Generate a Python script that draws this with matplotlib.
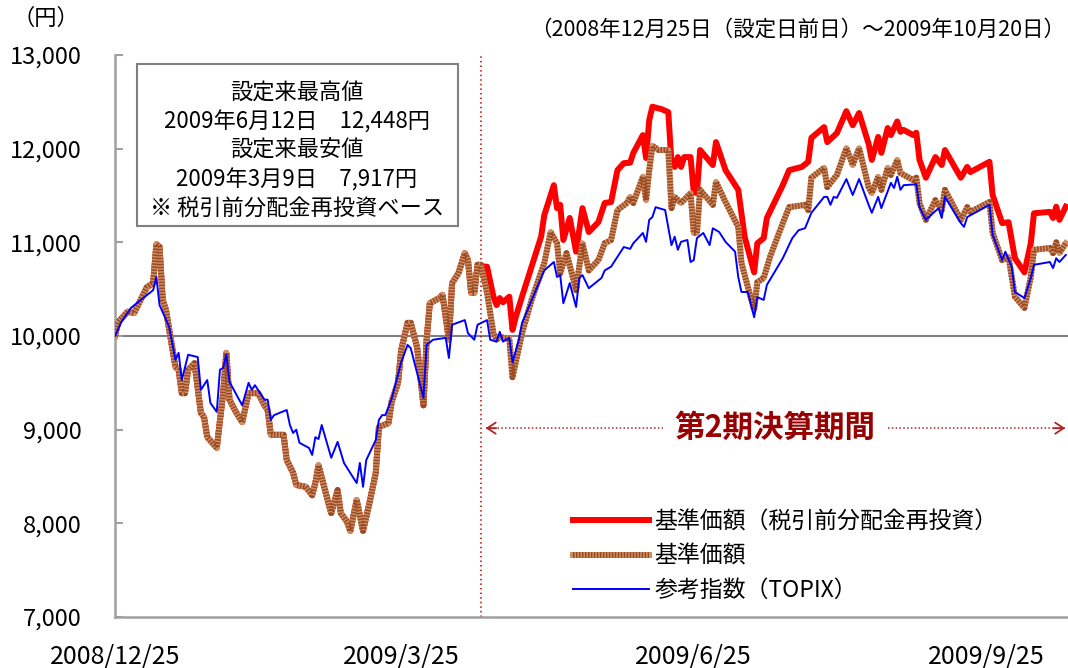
import matplotlib
matplotlib.use('Agg')
import matplotlib.pyplot as plt
from matplotlib.legend_handler import HandlerTuple
from matplotlib.patches import Rectangle
import pandas as pd

plt.rcParams['font.family'] = ['Noto Sans CJK JP', 'DejaVu Sans']

# 基準価額 - identical for both series until the dividend (2009/4/19)
common_dates = ['2008-12-25', '2008-12-26', '2008-12-29', '2008-12-31', '2009-01-04', '2009-01-06',
                '2009-01-07', '2009-01-08', '2009-01-09', '2009-01-10', '2009-01-13', '2009-01-14',
                '2009-01-15', '2009-01-16', '2009-01-17', '2009-01-19', '2009-01-21', '2009-01-22',
                '2009-01-23', '2009-01-26', '2009-01-28', '2009-01-29', '2009-01-30', '2009-02-01',
                '2009-02-03', '2009-02-05', '2009-02-08', '2009-02-10', '2009-02-11', '2009-02-12',
                '2009-02-16', '2009-02-17', '2009-02-19', '2009-02-20', '2009-02-23', '2009-02-25',
                '2009-02-26', '2009-02-27', '2009-03-02', '2009-03-03', '2009-03-05', '2009-03-06',
                '2009-03-08', '2009-03-09', '2009-03-11', '2009-03-13', '2009-03-15', '2009-03-17',
                '2009-03-18', '2009-03-21', '2009-03-22', '2009-03-24', '2009-03-25', '2009-03-27',
                '2009-03-28', '2009-03-30', '2009-04-01', '2009-04-02', '2009-04-03', '2009-04-06',
                '2009-04-07', '2009-04-09', '2009-04-10', '2009-04-12', '2009-04-14', '2009-04-15',
                '2009-04-16', '2009-04-17', '2009-04-18', '2009-04-19']
common_vals = [10000, 10150, 10260, 10245, 10520, 10565,
               10980, 10950, 10385, 10280, 9670, 9640,
               9390, 9390, 9640, 9710, 9180, 9135,
               8920, 8805, 9390, 9820, 9320, 9190,
               9080, 9390, 9390, 9260, 9210, 8945,
               8945, 8675, 8540, 8410, 8390, 8300,
               8430, 8620, 8230, 8110, 8355, 8110,
               8015, 7917, 8250, 7920, 8215, 8540,
               9030, 9070, 9300, 9500, 9850, 10140,
               10140, 9880, 9260, 9960, 10350, 10405,
               10440, 9960, 10565, 10670, 10885, 10810,
               10460, 10460, 10760, 10760]

# 基準価額 after the dividend
nav_dates = ['2009-04-21', '2009-04-23', '2009-04-24', '2009-04-25', '2009-04-28', '2009-04-29',
             '2009-05-02', '2009-05-05', '2009-05-09', '2009-05-11', '2009-05-13', '2009-05-14',
             '2009-05-16', '2009-05-19', '2009-05-21', '2009-05-23', '2009-05-26', '2009-05-28',
             '2009-05-30', '2009-06-01', '2009-06-04', '2009-06-05', '2009-06-06', '2009-06-09',
             '2009-06-10', '2009-06-11', '2009-06-12', '2009-06-14', '2009-06-17', '2009-06-18',
             '2009-06-19', '2009-06-21', '2009-06-24', '2009-06-25', '2009-06-26', '2009-06-27',
             '2009-07-01', '2009-07-02', '2009-07-05', '2009-07-09', '2009-07-10', '2009-07-12',
             '2009-07-14', '2009-07-15', '2009-07-17', '2009-07-19', '2009-07-23', '2009-07-25',
             '2009-07-30', '2009-07-31', '2009-08-01', '2009-08-05', '2009-08-06', '2009-08-09',
             '2009-08-12', '2009-08-14', '2009-08-16', '2009-08-19', '2009-08-20', '2009-08-22',
             '2009-08-23', '2009-08-25', '2009-08-26', '2009-08-28', '2009-08-29', '2009-09-02',
             '2009-09-03', '2009-09-04', '2009-09-06', '2009-09-09', '2009-09-11', '2009-09-12',
             '2009-09-17', '2009-09-19', '2009-09-20', '2009-09-26', '2009-09-27', '2009-09-30',
             '2009-10-02', '2009-10-04', '2009-10-07', '2009-10-09', '2009-10-10', '2009-10-15',
             '2009-10-16', '2009-10-17', '2009-10-18', '2009-10-20']
nav_vals = [10460, 10030, 9960, 9990, 9970, 9560,
            10030, 10385, 10780, 11110, 10990, 10670,
            10885, 10490, 10990, 10700, 10810, 10990,
            11025, 11345, 11420, 11485, 11420, 11700,
            11450, 11770, 12030, 11985, 11985, 11365,
            11485, 11420, 11525, 11100, 11100, 11560,
            11400, 11645, 11430, 11165, 10780, 10525,
            10280, 10575, 10620, 10845, 11205, 11375,
            11400, 11345, 11690, 11795, 11590, 11720,
            12005, 11825, 12005, 11590, 11525, 11700,
            11560, 11795, 11720, 11880, 11740, 11665,
            11690, 11420, 11240, 11450, 11345, 11560,
            11240, 11375, 11325, 11430, 11100, 10810,
            10845, 10420, 10300, 10630, 10920, 10940,
            10885, 11000, 10885, 10990]

# 基準価額（税引前分配金再投資） after the dividend
reinv_dates = ['2009-04-20', '2009-04-21', '2009-04-23', '2009-04-24', '2009-04-25', '2009-04-26',
               '2009-04-28', '2009-04-29', '2009-04-30', '2009-05-02', '2009-05-05', '2009-05-08',
               '2009-05-09', '2009-05-12', '2009-05-13', '2009-05-14', '2009-05-15', '2009-05-17',
               '2009-05-19', '2009-05-21', '2009-05-23', '2009-05-26', '2009-05-28', '2009-05-30',
               '2009-06-01', '2009-06-03', '2009-06-05', '2009-06-06', '2009-06-09', '2009-06-10',
               '2009-06-11', '2009-06-12', '2009-06-15', '2009-06-17', '2009-06-18', '2009-06-19',
               '2009-06-20', '2009-06-21', '2009-06-22', '2009-06-24', '2009-06-25', '2009-06-26',
               '2009-06-27', '2009-07-01', '2009-07-02', '2009-07-05', '2009-07-09', '2009-07-11',
               '2009-07-14', '2009-07-15', '2009-07-17', '2009-07-18', '2009-07-23', '2009-07-25',
               '2009-07-29', '2009-07-31', '2009-08-01', '2009-08-05', '2009-08-06', '2009-08-09',
               '2009-08-12', '2009-08-14', '2009-08-16', '2009-08-19', '2009-08-20', '2009-08-22',
               '2009-08-23', '2009-08-25', '2009-08-26', '2009-08-28', '2009-08-29', '2009-08-30',
               '2009-09-02', '2009-09-03', '2009-09-04', '2009-09-06', '2009-09-09', '2009-09-11',
               '2009-09-12', '2009-09-17', '2009-09-19', '2009-09-20', '2009-09-26', '2009-09-27',
               '2009-09-30', '2009-10-02', '2009-10-04', '2009-10-07', '2009-10-09', '2009-10-10',
               '2009-10-15', '2009-10-16', '2009-10-17', '2009-10-18', '2009-10-20']
reinv_vals = [10740, 10740, 10420, 10330, 10405, 10360,
              10420, 10065, 10200, 10420, 10740, 11060,
              11290, 11610, 11365, 11400, 11025, 11260,
              10900, 11365, 11110, 11215, 11420, 11430,
              11770, 11845, 11850, 11955, 12145, 11900,
              12305, 12448, 12420, 12390, 11850, 11805,
              11910, 11805, 11910, 11910, 11540, 11525,
              11985, 11825, 12070, 11770, 11560, 11060,
              10680, 10990, 11045, 11260, 11610, 11770,
              11805, 11860, 12115, 12230, 12070, 12165,
              12400, 12250, 12380, 12050, 11880, 12125,
              11955, 12220, 12145, 12290, 12180, 12200,
              12145, 12170, 11880, 11690, 11910, 11825,
              11985, 11690, 11805, 11750, 11860, 11505,
              11205, 11215, 10830, 10680, 10990, 11310,
              11325, 11260, 11380, 11240, 11380]

# 参考指数（TOPIX）
topix_dates = ['2008-12-25', '2008-12-27', '2008-12-30', '2009-01-06', '2009-01-07', '2009-01-08',
               '2009-01-11', '2009-01-13', '2009-01-14', '2009-01-15', '2009-01-17', '2009-01-20',
               '2009-01-21', '2009-01-23', '2009-01-24', '2009-01-26', '2009-01-27', '2009-01-28',
               '2009-01-29', '2009-01-30', '2009-02-03', '2009-02-05', '2009-02-06', '2009-02-07',
               '2009-02-10', '2009-02-11', '2009-02-12', '2009-02-13', '2009-02-17', '2009-02-18',
               '2009-02-19', '2009-02-20', '2009-02-21', '2009-02-24', '2009-02-25', '2009-02-26',
               '2009-02-27', '2009-02-28', '2009-03-03', '2009-03-05', '2009-03-07', '2009-03-11',
               '2009-03-12', '2009-03-13', '2009-03-14', '2009-03-17', '2009-03-18', '2009-03-19',
               '2009-03-20', '2009-03-22', '2009-03-25', '2009-03-27', '2009-03-28', '2009-04-01',
               '2009-04-02', '2009-04-04', '2009-04-08', '2009-04-09', '2009-04-10', '2009-04-14',
               '2009-04-15', '2009-04-17', '2009-04-18', '2009-04-21', '2009-04-22', '2009-04-24',
               '2009-04-25', '2009-04-26', '2009-04-28', '2009-04-29', '2009-05-01', '2009-05-02',
               '2009-05-09', '2009-05-12', '2009-05-13', '2009-05-14', '2009-05-15', '2009-05-17',
               '2009-05-19', '2009-05-20', '2009-05-21', '2009-05-23', '2009-05-27', '2009-05-28',
               '2009-05-30', '2009-06-03', '2009-06-05', '2009-06-06', '2009-06-09', '2009-06-10',
               '2009-06-11', '2009-06-12', '2009-06-13', '2009-06-16', '2009-06-18', '2009-06-19',
               '2009-06-20', '2009-06-21', '2009-06-23', '2009-06-24', '2009-06-25', '2009-06-26',
               '2009-06-28', '2009-06-30', '2009-07-01', '2009-07-03', '2009-07-05', '2009-07-08',
               '2009-07-09', '2009-07-10', '2009-07-12', '2009-07-14', '2009-07-15', '2009-07-17',
               '2009-07-18', '2009-07-23', '2009-07-26', '2009-07-28', '2009-07-30', '2009-08-01',
               '2009-08-05', '2009-08-06', '2009-08-07', '2009-08-08', '2009-08-09', '2009-08-12',
               '2009-08-14', '2009-08-16', '2009-08-19', '2009-08-20', '2009-08-22', '2009-08-23',
               '2009-08-26', '2009-08-27', '2009-08-28', '2009-08-29', '2009-08-30', '2009-09-03',
               '2009-09-04', '2009-09-06', '2009-09-10', '2009-09-11', '2009-09-12', '2009-09-17',
               '2009-09-18', '2009-09-19', '2009-09-26', '2009-09-27', '2009-09-30', '2009-10-01',
               '2009-10-03', '2009-10-04', '2009-10-07', '2009-10-09', '2009-10-10', '2009-10-15',
               '2009-10-16', '2009-10-17', '2009-10-18', '2009-10-20']
topix_vals = [10000, 10150, 10300, 10490, 10630, 10330,
              10100, 9745, 9820, 9530, 9800, 9775,
              9425, 9530, 9285, 9190, 9640, 9660,
              9800, 9510, 9260, 9500, 9425, 9475,
              9320, 9320, 9105, 9155, 9210, 9050,
              8965, 9000, 8860, 8805, 8730, 8920,
              8900, 9050, 8700, 8870, 8645, 8430,
              8645, 8390, 8675, 8890, 9105, 9155,
              9155, 9330, 9720, 9905, 9870, 9340,
              9905, 9960, 9980, 9765, 10120, 10170,
              10030, 9960, 10120, 10170, 9960, 9940,
              10045, 9940, 9980, 9720, 9960, 10140,
              10700, 10790, 10630, 10650, 10350, 10565,
              10310, 10620, 10650, 10510, 10620, 10700,
              10740, 10950, 10930, 10990, 11100, 11005,
              11240, 11270, 11375, 11345, 10970, 11060,
              10920, 11005, 11025, 10790, 10810, 11045,
              11100, 10970, 11150, 11110, 11005, 10900,
              10630, 10470, 10470, 10200, 10415, 10385,
              10545, 10830, 11045, 11130, 11150, 11315,
              11485, 11485, 11400, 11485, 11475, 11675,
              11505, 11675, 11400, 11315, 11485, 11365,
              11635, 11580, 11700, 11560, 11610, 11620,
              11375, 11240, 11365, 11260, 11485, 11205,
              11165, 11270, 11400, 11080, 10810, 10900,
              10740, 10470, 10405, 10620, 10760, 10790,
              10725, 10830, 10790, 10865]

x_ticks = ['2008-12-25', '2009-03-25', '2009-06-25', '2009-09-25']
x_labels = ['2008/12/25', '2009/3/25', '2009/6/25', '2009/9/25']
y_ticks = [7000, 8000, 9000, 10000, 11000, 12000, 13000]
period_start = '2009-04-19'

labels = ['基準価額（税引前分配金再投資）', '基準価額', '参考指数（TOPIX）']
box_lines = ['設定来最高値', '2009年6月12日　12,448円', '設定来最安値',
             '2009年3月9日　7,917円', '※ 税引前分配金再投資ベース']

red_x = pd.to_datetime(common_dates + reinv_dates)
red_y = common_vals + reinv_vals
nav_x = pd.to_datetime(common_dates + nav_dates)
nav_y = common_vals + nav_vals
tpx_x = pd.to_datetime(topix_dates)

fig = plt.figure(figsize=(10.68, 6.68), dpi=100)
ax = fig.add_axes([0.1077, 0.0763, 0.8923, 0.8414])

grey = '#a0a0a0'
ax.axhline(10000, color='#808080', lw=1.5, zorder=1)
ax.axvline(pd.Timestamp(period_start), color='#c00000', ls=(0, (1, 2)), lw=1.1, zorder=1)

l_red, = ax.plot(red_x, red_y, color='#ff0000', lw=4.3, zorder=2)
l_br1, = ax.plot(nav_x, nav_y, color='#cf8f62', lw=4.3, zorder=3)
l_br2, = ax.plot(nav_x, nav_y, color='#9a4a22', lw=4.3, dashes=(0.25, 0.25), zorder=3.1)
l_blu, = ax.plot(tpx_x, topix_vals, color='#0000ff', lw=1.4, zorder=4)

x0 = pd.Timestamp('2008-12-25')
ax.set_xlim(x0, x0 + pd.Timedelta(days=299.7))
ax.set_ylim(7000, 13000)

ax.set_yticks(y_ticks)
ax.set_yticklabels([f'{v:,}' for v in y_ticks])
ax.set_xticks(pd.to_datetime(x_ticks))
ax.set_xticklabels(x_labels)
ax.tick_params(axis='y', direction='in', length=6, width=1.5, color=grey, labelsize=17, pad=24)
ax.tick_params(axis='x', length=0, labelsize=18, pad=19)

for s in ['top', 'right']:
    ax.spines[s].set_visible(False)
for s in ['left', 'bottom']:
    ax.spines[s].set_color(grey)
    ax.spines[s].set_linewidth(1.8)

# info box
ax.add_patch(Rectangle((0.0231, 0.696), 0.337, 0.288, transform=ax.transAxes,
                       facecolor='white', edgecolor='#808080', lw=1.5, zorder=5))
for t, yy in zip(box_lines, [0.932, 0.881, 0.831, 0.778, 0.726]):
    ax.text(0.191, yy, t, transform=ax.transAxes, ha='center', va='center',
            fontsize=16, zorder=6)

# 第2期決算期間 arrow
ay = 0.336
dark = '#b22222'
ax.plot([0.389, 0.575], [ay, ay], transform=ax.transAxes, color=dark, ls=(0, (1, 1.5)), lw=1.1)
ax.plot([0.811, 0.997], [ay, ay], transform=ax.transAxes, color=dark, ls=(0, (1, 1.5)), lw=1.1)
for a, b in [(0.389, 0.40), (0.997, 0.985)]:
    ax.annotate('', xy=(a, ay), xytext=(b, ay), xycoords='axes fraction',
                arrowprops=dict(arrowstyle='->,head_length=0.6,head_width=0.4',
                                color=dark, lw=1.3, shrinkA=0, shrinkB=0))
ax.text(0.6925, ay, '第2期決算期間', transform=ax.transAxes, ha='center', va='center',
        fontsize=22, fontweight='bold', color='#990000')

ax.legend([l_red, (l_br1, l_br2), l_blu], labels, loc='upper left',
          bbox_to_anchor=(0.4806, 0.19), frameon=False, fontsize=16.5,
          handlelength=3.3, handletextpad=0.25, borderpad=0, borderaxespad=0,
          labelspacing=0.5, handler_map={tuple: HandlerTuple(ndivide=1)})

fig.text(0.043, 0.973, '（円）', ha='center', va='center', fontsize=16)
fig.text(0.997, 0.955, '（2008年12月25日（設定日前日）～2009年10月20日）',
         ha='right', va='center', fontsize=15.5)

fig.savefig('out.png', dpi=100)
